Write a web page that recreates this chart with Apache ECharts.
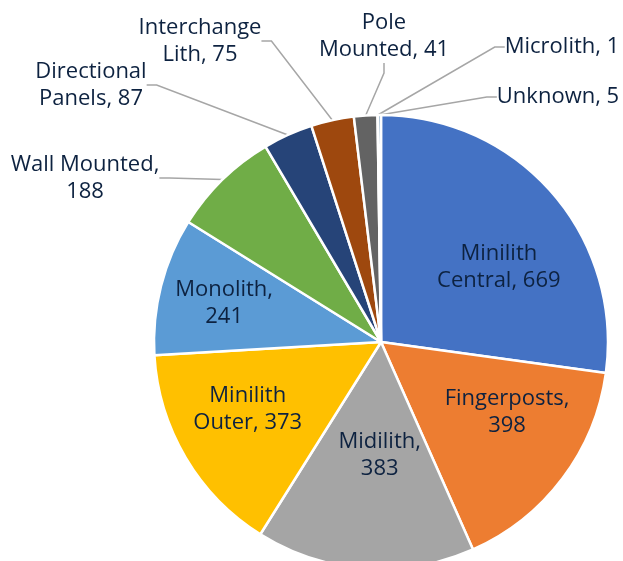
<!DOCTYPE html>
<html>
<head>
<meta charset="utf-8">
<script src="https://cdn.jsdelivr.net/npm/echarts@6/dist/echarts.min.js"></script>
<style>
html, body { margin: 0; padding: 0; background: #fff; }
#main { width: 623px; height: 561px; }
</style>
</head>
<body>
<div id="main"></div>
<script>
// data
var names = ['Minilith\nCentral', 'Fingerposts', 'Midilith', 'Minilith\nOuter', 'Monolith',
    'Wall Mounted', 'Directional\nPanels', 'Interchange\nLith', 'Pole\nMounted', 'Microlith', 'Unknown'];
var values = [669, 398, 383, 373, 241, 188, 87, 75, 41, 1, 5];
var colors = ['#4472C4', '#ED7D31', '#A5A5A5', '#FFC000', '#5B9BD5', '#70AD47',
    '#264478', '#9E480E', '#636363', '#997300', '#255E91'];

// names that put the value on its own line
var breakAfterComma = ['Fingerposts', 'Midilith', 'Monolith', 'Wall Mounted'];

// label placement: nudges for the labels inside, spots for the ones outside
var insideNudge = [[30, 2], [33, 0], [7, -3], [-33, 8], [-44, -10]];
var outsideSpot = {
    5: [85, 178], 6: [91, 85], 7: [200, 41], 8: [384, 36], 9: [562, 47], 10: [558, 97]
};

var chart = echarts.init(document.getElementById('main'));

var data = names.map(function (n, i) {
    var outside = i >= 5;
    return {
        name: n,
        value: values[i],
        itemStyle: { color: colors[i] },
        label: { position: outside ? 'outside' : 'inside' },
        labelLine: { show: outside }
    };
});

chart.setOption({
    animation: false,
    series: [{
        type: 'pie',
        center: [381, 342],
        radius: 227,
        startAngle: 90,
        clockwise: true,
        avoidLabelOverlap: false,
        data: data,
        itemStyle: { borderColor: '#fff', borderWidth: 2.5 },
        label: {
            color: '#0D2240',
            fontFamily: 'Open Sans',
            fontSize: 22,
            lineHeight: 27,
            align: 'center',
            formatter: function (p) {
                var sep = breakAfterComma.indexOf(p.name) >= 0 ? ',\n' : ', ';
                return p.name + sep + p.value;
            }
        },
        labelLine: {
            length: 10,
            length2: 10,
            lineStyle: { color: '#A6A6A6', width: 1.5 }
        },
        emphasis: { disabled: true },
        labelLayout: function (p) {
            var i = p.dataIndex;
            if (i < 5) {
                return { dx: insideNudge[i][0], dy: insideNudge[i][1] };
            }
            var s = outsideSpot[i];
            return {
                x: s[0], y: s[1], align: 'center', verticalAlign: 'middle'
            };
        }
    }]
});
</script>
</body>
</html>
